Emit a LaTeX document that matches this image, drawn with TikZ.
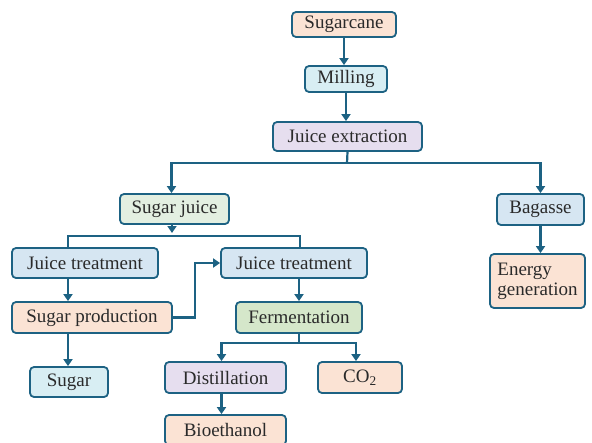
\documentclass[tikz,border=0pt]{standalone}
\usepackage{fontspec}
\setmainfont{Liberation Serif}
\usetikzlibrary{arrows.meta,calc}
\definecolor{bord}{HTML}{1D6283}
\definecolor{peach}{HTML}{FBE3D4}
\definecolor{cyanl}{HTML}{D8EEF3}
\definecolor{lav}{HTML}{E6DEEF}
\definecolor{greenl}{HTML}{E3EFE1}
\definecolor{bluel}{HTML}{D6E6F2}
\definecolor{greenm}{HTML}{D5E7CA}
\definecolor{txt}{HTML}{2A2A2A}
\tikzset{
  box/.style={draw=bord,line width=1.8pt,rounded corners=4pt,inner sep=0pt,
    text=txt,font=\fontsize{19}{20}\selectfont,align=center},
  conn/.style={draw=bord,line width=2.2pt},
  arr/.style={conn,-{Triangle[width=9pt,length=7pt]}},
}
\begin{document}
\begin{tikzpicture}[x=1pt,y=-1pt]
\useasboundingbox (0,0) rectangle (592,442);
\node[box,fill=peach,minimum width=104pt,minimum height=25pt] (sugarcane) at (344,24.5) {Sugarcane};
\node[box,fill=cyanl,minimum width=82pt,minimum height=26pt] (milling) at (346,79) {Milling};
\node[box,fill=lav,minimum width=149pt,minimum height=29pt] (juiceext) at (347.5,136.5) {Juice extraction};
\node[box,fill=greenl,minimum width=109pt,minimum height=30pt] (sugarjuice) at (174.5,209) {Sugar juice};
\node[box,fill=bluel,minimum width=87pt,minimum height=31pt] (bagasse) at (540.5,209.5) {Bagasse};
\node[box,fill=bluel,minimum width=146pt,minimum height=30pt] (jt1) at (85,263) {Juice treatment};
\node[box,fill=bluel,minimum width=146pt,minimum height=30pt] (jt2) at (294,263) {Juice treatment};
\node[box,fill=peach,minimum width=160pt,minimum height=31pt] (sugprod) at (92,317.5) {Sugar production};
\node[box,fill=greenm,minimum width=126pt,minimum height=31pt] (ferm) at (299,317.5) {Fermentation};
\node[box,fill=lav,minimum width=121pt,minimum height=31pt] (distill) at (225.5,377.5) {Distillation};
\node[box,fill=peach,minimum width=84pt,minimum height=31pt] (co2) at (360,377.5) {CO\textsubscript{2}};
\node[box,fill=peach,minimum width=121pt,minimum height=30pt] (bioeth) at (225.5,430) {Bioethanol};
\node[box,fill=cyanl,minimum width=78pt,minimum height=30pt] (sugar) at (69,382) {Sugar};
\node[box,fill=peach,minimum width=95pt,minimum height=54pt,align=left] (energy) at (537.5,281) {Energy\\generation};
% helper coordinates
\coordinate (s1) at (347,163);
\coordinate (s2) at (172,236);
\coordinate (s3) at (195,317.5);
\coordinate (s4) at (299,343);
% connectors
\draw[arr] (sugarcane.south) -- (sugarcane.south |- milling.north);
\draw[arr] (milling.south) -- (milling.south |- juiceext.north);
\draw[conn] (juiceext.south) -- (s1);
\draw[arr] (s1) -| ($(sugarjuice.north)+(-3,0)$);
\draw[arr] (s1) -| (bagasse.north);
\draw[arr] ($(sugarjuice.south)+(-2.5,0)$) -- ($(s2)+(0,-3)$);
\draw[conn] ($(jt1.north)+(-17,0)$) |- (s2) -| ($(jt2.north)+(6,0)$);
\draw[arr] ($(jt1.south)+(-17,0)$) -- ($(sugprod.north)+(-24,0)$);
\draw[arr] (sugprod.east) -- (s3) |- (jt2.west);
\draw[arr] ($(jt2.south)+(5,0)$) -- (ferm.north);
\draw[conn] (ferm.south) -- (s4);
\draw[arr] (s4) -| ($(distill.north)+(-4,0)$);
\draw[arr] (s4) -| ($(co2.north)+(-4,0)$);
\draw[arr] ($(distill.south)+(-4,0)$) -- ($(bioeth.north)+(-4,0)$);
\draw[arr] ($(sugprod.south)+(-24,0)$) -- ($(sugar.north)+(-1,0)$);
\draw[arr] (bagasse.south) -- (bagasse.south |- energy.north);
\end{tikzpicture}
\end{document}
